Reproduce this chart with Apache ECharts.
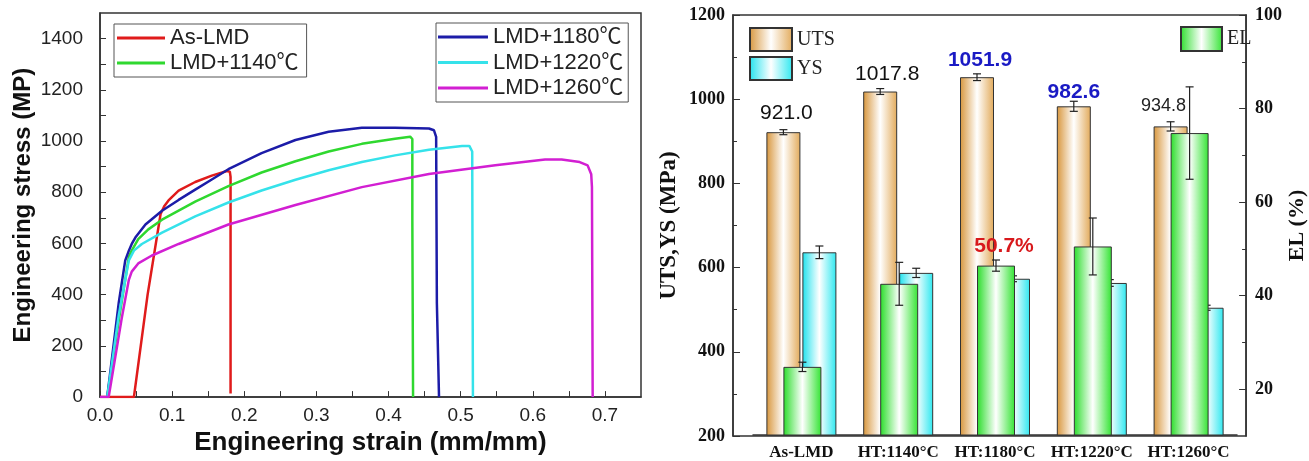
<!DOCTYPE html>
<html>
<head>
<meta charset="utf-8">
<title>LMD tensile properties</title>
<script src="https://cdn.jsdelivr.net/npm/echarts@6/dist/echarts.min.js"></script>
<style>
  html, body { margin: 0; padding: 0; background: #fff; }
  #main { width: 1309px; height: 461px; }
</style>
</head>
<body>
<div id="main"></div>
<script>
// ---------- left panel: stress-strain curves [strain, stress MPa] ----------
var curveNames = ['As-LMD', 'LMD+1140℃', 'LMD+1180℃', 'LMD+1220℃', 'LMD+1260℃'];
var curveColors = ['#e01b1b', '#2fd82f', '#1c1ca8', '#35e2ea', '#d21fd2'];

var asLmd = [[0, 0], [0.047, 0], [0.066, 400], [0.084, 715], [0.089, 745], [0.095, 768],
  [0.100, 782], [0.109, 806], [0.132, 840], [0.155, 865], [0.176, 883], [0.180, 880], [0.181, 860], [0.181, 14]];
var lmd1140 = [[0.010, 0], [0.026, 300], [0.040, 547], [0.044, 572], [0.053, 617], [0.067, 655],
  [0.086, 693], [0.132, 763], [0.178, 824], [0.224, 877], [0.271, 921], [0.317, 959],
  [0.363, 989], [0.409, 1009], [0.430, 1017], [0.433, 1008], [0.433, 699], [0.434, 0]];
var lmd1180 = [[0.010, 0], [0.026, 369], [0.035, 534], [0.040, 572], [0.044, 598], [0.049, 623],
  [0.063, 674], [0.086, 728], [0.109, 770], [0.132, 810], [0.155, 850], [0.178, 890],
  [0.224, 953], [0.271, 1004], [0.317, 1036], [0.363, 1052], [0.409, 1052], [0.456, 1049],
  [0.463, 1042], [0.466, 1016], [0.467, 369], [0.470, 0]];
var lmd1220 = [[0.010, 0], [0.026, 320], [0.040, 534], [0.047, 572], [0.058, 598], [0.086, 642],
  [0.132, 706], [0.178, 760], [0.224, 807], [0.271, 849], [0.317, 886], [0.363, 918],
  [0.409, 944], [0.456, 966], [0.502, 981], [0.512, 981], [0.516, 959], [0.517, 0]];
var lmd1260 = [[0, 0], [0.012, 0], [0.030, 306], [0.040, 458], [0.044, 490], [0.053, 522],
  [0.072, 553], [0.109, 598], [0.178, 674], [0.271, 750], [0.363, 820], [0.456, 871],
  [0.548, 905], [0.617, 928], [0.640, 928], [0.665, 918], [0.676, 905], [0.681, 870],
  [0.682, 820], [0.683, 0]];
var curves = [asLmd, lmd1140, lmd1180, lmd1220, lmd1260];

var strainLabels = [0, 0.1, 0.2, 0.3, 0.4, 0.5, 0.6, 0.7];
var strainTicks = [0, 0.05, 0.1, 0.15, 0.2, 0.25, 0.3, 0.35, 0.4, 0.45, 0.5, 0.55, 0.6, 0.65, 0.7];
var stressLabels = [0, 200, 400, 600, 800, 1000, 1200, 1400];
var stressTicks = [0, 100, 200, 300, 400, 500, 600, 700, 800, 900, 1000, 1100, 1200, 1300, 1400];

// ---------- right panel: UTS / YS / EL bars ----------
var categories = ['As-LMD', 'HT:1140°C', 'HT:1180°C', 'HT:1220°C', 'HT:1260°C'];
var uts = [921.0, 1017.8, 1051.9, 982.6, 934.8];
var utsErr = [6, 7, 8, 12, 11];
var ys = [635, 586, 572, 562, 503];
var ysErr = [15, 11, 7, 8, 6];
var el = [24.6, 42.4, 46.3, 50.4, 74.7];
var elErr = [1.0, 4.6, 1.2, 6.1, 9.9];
var elNote = '50.7%';
var elLabels = [20, 40, 60, 80, 100];
var elMinorTicks = [30, 50, 70, 90];

var SANS = '"Liberation Sans", Arial, "Noto Sans CJK SC", sans-serif';
var SERIF = '"Liberation Serif", "Times New Roman", serif';
var AX = '#333';

function plain(v) { return String(v); }

function sideFade(c1, c2) {
  return { type: 'linear', x: 0, y: 0, x2: 1, y2: 0,
    colorStops: [{ offset: 0, color: c1 }, { offset: 0.5, color: '#ffffff' }, { offset: 1, color: c2 }] };
}

// label look of the value printed over each UTS bar
var utsLabelLook = [
  { color: '#111', fontWeight: 'normal', fontSize: 21, offset: [3, 0], distance: 8 },
  { color: '#111', fontWeight: 'normal', fontSize: 21, offset: [7, 0], distance: 7 },
  { color: '#1a1ac4', fontWeight: 'bold', fontSize: 21, offset: [3, 0], distance: 6 },
  { color: '#1a1ac4', fontWeight: 'bold', fontSize: 21, offset: [0, 0], distance: 4 },
  { color: '#222', fontWeight: 'normal', fontSize: 18, offset: [-7, 0], distance: 11 }
];

var utsData = uts.map(function (v, i) {
  var look = utsLabelLook[i];
  return {
    value: v,
    label: {
      show: true, position: 'top', fontFamily: SANS,
      color: look.color, fontWeight: look.fontWeight, fontSize: look.fontSize,
      offset: look.offset, distance: look.distance,
      formatter: function (p) { return p.value.toFixed(1); }
    }
  };
});
var elData = el.map(function (v, i) {
  if (i !== 2) return v;
  return {
    value: v,
    label: { show: true, position: 'top', formatter: elNote, fontFamily: SANS,
      color: '#d8191c', fontWeight: 'bold', fontSize: 21, offset: [8, 0], distance: 9 }
  };
});

function errorBar(dx) {
  return function (params, api) {
    var x = api.value(0), v = api.value(1), e = api.value(2);
    var hi = api.coord([x, v + e]);
    var lo = api.coord([x, v - e]);
    var cx = hi[0] + dx, cap = 4;
    var st = { stroke: '#222', lineWidth: 1.2 };
    return {
      type: 'group',
      children: [
        { type: 'line', shape: { x1: cx, y1: hi[1], x2: cx, y2: lo[1] }, style: st },
        { type: 'line', shape: { x1: cx - cap, y1: hi[1], x2: cx + cap, y2: hi[1] }, style: st },
        { type: 'line', shape: { x1: cx - cap, y1: lo[1], x2: cx + cap, y2: lo[1] }, style: st }
      ]
    };
  };
}
function errData(vals, errs) {
  return vals.map(function (v, i) { return [i, v, errs[i]]; });
}

var chart = echarts.init(document.getElementById('main'));

var series = curves.map(function (pts, i) {
  return {
    name: curveNames[i], type: 'line', xAxisIndex: 0, yAxisIndex: 0,
    data: pts, symbol: 'none', showSymbol: false,
    lineStyle: { width: 2.5, color: curveColors[i] }, itemStyle: { color: curveColors[i] }
  };
});

series.push(
  { name: 'UTS', type: 'bar', xAxisIndex: 2, yAxisIndex: 4, barWidth: 34, barGap: '-50%', z: 2,
    itemStyle: { color: sideFade('#d8963c', '#e2aa5a'), borderColor: '#333', borderWidth: 1 },
    data: utsData },
  { name: 'EL', type: 'bar', xAxisIndex: 2, yAxisIndex: 5, barWidth: 38, barGap: '-50%', z: 4,
    itemStyle: { color: sideFade('#2add2a', '#33e433'), borderColor: '#333', borderWidth: 1 },
    data: elData },
  { name: 'YS', type: 'bar', xAxisIndex: 2, yAxisIndex: 4, barWidth: 34, barGap: '-50%', z: 2,
    itemStyle: { color: sideFade('#1fe2ee', '#2de8f0'), borderColor: '#333', borderWidth: 1 },
    data: ys },
  { type: 'custom', xAxisIndex: 2, yAxisIndex: 4, z: 3, renderItem: errorBar(-18),
    encode: { x: 0, y: 1 }, data: errData(uts, utsErr) },
  { type: 'custom', xAxisIndex: 2, yAxisIndex: 4, z: 3, renderItem: errorBar(18),
    encode: { x: 0, y: 1 }, data: errData(ys, ysErr) },
  { type: 'custom', xAxisIndex: 2, yAxisIndex: 5, z: 5, renderItem: errorBar(1),
    encode: { x: 0, y: 1 }, data: errData(el, elErr) }
);

var option = {
  animation: false,
  backgroundColor: '#fff',
  grid: [
    { left: 100, top: 13, width: 541, height: 394, show: true, borderColor: AX, borderWidth: 1.5 },
    { left: 733, top: 15, width: 523, height: 421, show: true, borderColor: AX, borderWidth: 1.5 },
    { left: 753, top: 15, width: 484, height: 421 }
  ],
  legend: [
    { data: curveNames.slice(0, 2), orient: 'vertical', left: 114, top: 24, itemGap: 3, icon: 'rect',
      itemWidth: 48, itemHeight: 3, borderColor: '#555', borderWidth: 1, padding: [3, 8, 3, 3],
      textStyle: { fontFamily: SANS, fontSize: 22, color: '#222' } },
    { data: curveNames.slice(2), orient: 'vertical', left: 436, top: 23, itemGap: 3.5, icon: 'rect',
      itemWidth: 50, itemHeight: 3, borderColor: '#555', borderWidth: 1, padding: [3, 5, 3, 2],
      textStyle: { fontFamily: SANS, fontSize: 22, color: '#222' } },
    { data: ['UTS', 'YS'], orient: 'vertical', left: 749, top: 27, itemGap: 4, icon: 'rect',
      itemWidth: 42, itemHeight: 23, padding: 0,
      textStyle: { fontFamily: SERIF, fontSize: 20, color: '#222' } },
    { data: ['EL'], orient: 'vertical', left: 1180, top: 26, icon: 'rect',
      itemWidth: 41, itemHeight: 24, padding: 0,
      textStyle: { fontFamily: SERIF, fontSize: 20, color: '#222' } }
  ],
  xAxis: [
    { type: 'value', gridIndex: 0, min: 0, max: 0.75,
      axisLine: { lineStyle: { color: AX, width: 1.5 } },
      axisTick: { inside: true, length: 6, customValues: strainTicks, lineStyle: { color: AX } },
      axisLabel: { customValues: strainLabels, fontFamily: SANS, fontSize: 19, color: '#222', margin: 9,
        formatter: function (v) { return v.toFixed(1); } },
      splitLine: { show: false },
      name: 'Engineering strain (mm/mm)', nameLocation: 'middle', nameGap: 27,
      nameTextStyle: { fontFamily: SANS, fontSize: 26, fontWeight: 'bold', color: '#111' } },
    { type: 'value', gridIndex: 1, min: 0, max: 1, show: false },
    { type: 'category', gridIndex: 2, data: categories,
      axisLine: { lineStyle: { color: AX, width: 1.5 } },
      axisTick: { inside: true, length: 5, lineStyle: { color: AX } },
      axisLabel: { interval: 0, fontFamily: SERIF, fontWeight: 'bold', fontSize: 17, color: '#111', margin: 9 } }
  ],
  yAxis: [
    { type: 'value', gridIndex: 0, min: 0, max: 1500,
      axisLine: { show: true, lineStyle: { color: AX, width: 1.5 } },
      axisTick: { show: true, inside: true, length: 6, customValues: stressTicks, lineStyle: { color: AX } },
      axisLabel: { customValues: stressLabels, formatter: plain, fontFamily: SANS, fontSize: 19, color: '#222', margin: 17 },
      splitLine: { show: false },
      name: 'Engineering stress (MP)', nameLocation: 'middle', nameGap: 65, nameRotate: 90,
      nameTextStyle: { fontFamily: SANS, fontSize: 24, fontWeight: 'bold', color: '#111' } },
    { type: 'value', gridIndex: 1, position: 'left', min: 200, max: 1200, interval: 200,
      axisLine: { show: true, lineStyle: { color: AX, width: 1.5 } },
      axisTick: { show: true, inside: true, length: 7, lineStyle: { color: AX } },
      minorTick: { show: true, splitNumber: 2, length: 4, lineStyle: { color: AX } },
      axisLabel: { formatter: plain, fontFamily: SERIF, fontWeight: 'bold', fontSize: 18, color: '#111', margin: 8 },
      splitLine: { show: false },
      name: 'UTS,YS (MPa)', nameLocation: 'middle', nameGap: 52, nameRotate: 90,
      nameTextStyle: { fontFamily: SERIF, fontSize: 23, fontWeight: 'bold', color: '#111' } },
    { type: 'value', gridIndex: 1, position: 'right', offset: 0, min: 10, max: 100,
      axisLine: { show: true, lineStyle: { color: AX, width: 1.5 } },
      axisTick: { show: true, inside: true, length: 7, customValues: elLabels, lineStyle: { color: AX } },
      axisLabel: { customValues: elLabels, formatter: plain, fontFamily: SERIF, fontWeight: 'bold', fontSize: 18, color: '#111', margin: 9 },
      splitLine: { show: false },
      name: 'EL (%)', nameLocation: 'middle', nameGap: 32, nameRotate: 90,
      nameTextStyle: { fontFamily: SERIF, fontSize: 22, fontWeight: 'bold', color: '#111' } },
    { type: 'value', gridIndex: 1, position: 'right', offset: 0, min: 10, max: 100,
      axisLine: { show: false },
      axisTick: { show: true, inside: true, length: 4, customValues: elMinorTicks, lineStyle: { color: AX } },
      axisLabel: { show: false }, splitLine: { show: false } },
    { type: 'value', gridIndex: 2, min: 200, max: 1200, show: false, splitLine: { show: false } },
    { type: 'value', gridIndex: 2, min: 10, max: 100, show: false, splitLine: { show: false } }
  ],
  series: series
};

chart.setOption(option);
</script>
</body>
</html>
